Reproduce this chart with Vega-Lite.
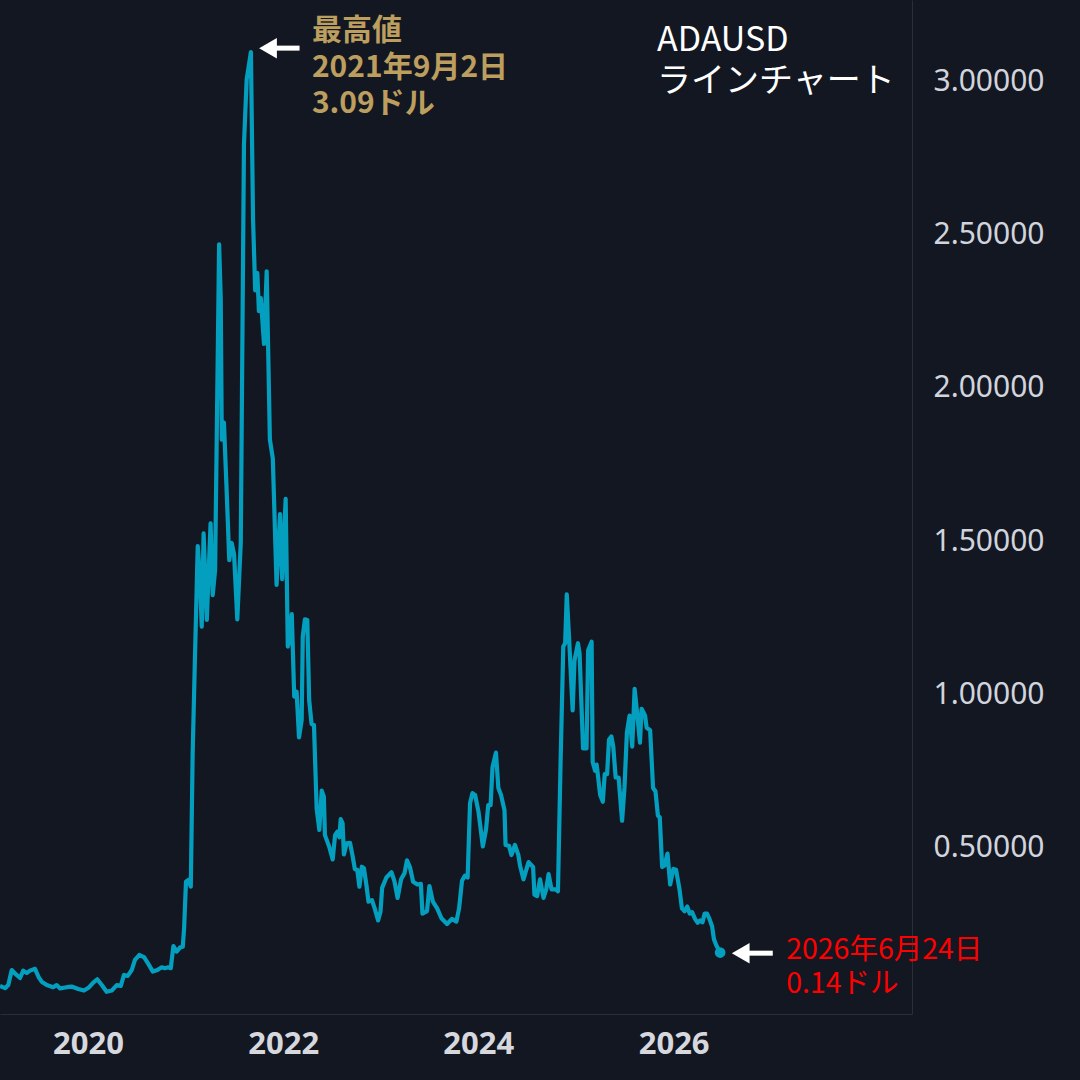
{
  "$schema": "https://vega.github.io/schema/vega-lite/v6.json",
  "width": 912,
  "height": 1014,
  "autosize": {"type": "none"},
  "padding": {"left": 0, "top": 0, "right": 168, "bottom": 66},
  "background": "#131722",
  "config": {
    "view": {"stroke": null},
    "font": "Noto Sans CJK JP"
  },
  "title": {
    "text": ["ADAUSD", "ラインチャート"],
    "orient": "top",
    "anchor": "start",
    "frame": "group",
    "align": "left",
    "baseline": "top",
    "offset": 0,
    "dx": 657,
    "dy": 99,
    "fontSize": 34,
    "fontWeight": "normal",
    "lineHeight": 41,
    "color": "#ffffff",
    "font": "Noto Sans CJK JP"
  },
  "datasets": {
    "ada": [
      {"date": "2019-02-06", "price": 0.049},
      {"date": "2019-02-25", "price": 0.042},
      {"date": "2019-03-09", "price": 0.052},
      {"date": "2019-03-22", "price": 0.101},
      {"date": "2019-04-09", "price": 0.085},
      {"date": "2019-04-22", "price": 0.075},
      {"date": "2019-05-04", "price": 0.099},
      {"date": "2019-05-17", "price": 0.091},
      {"date": "2019-05-29", "price": 0.099},
      {"date": "2019-06-17", "price": 0.105},
      {"date": "2019-06-30", "price": 0.079},
      {"date": "2019-07-12", "price": 0.063},
      {"date": "2019-07-31", "price": 0.052},
      {"date": "2019-08-24", "price": 0.045},
      {"date": "2019-09-06", "price": 0.052},
      {"date": "2019-09-19", "price": 0.041},
      {"date": "2019-10-14", "price": 0.045},
      {"date": "2019-11-01", "price": 0.047},
      {"date": "2019-11-26", "price": 0.039},
      {"date": "2019-12-17", "price": 0.034},
      {"date": "2020-01-03", "price": 0.043},
      {"date": "2020-01-21", "price": 0.060},
      {"date": "2020-02-05", "price": 0.071},
      {"date": "2020-02-22", "price": 0.052},
      {"date": "2020-03-11", "price": 0.030},
      {"date": "2020-03-30", "price": 0.034},
      {"date": "2020-04-18", "price": 0.052},
      {"date": "2020-05-03", "price": 0.049},
      {"date": "2020-05-15", "price": 0.085},
      {"date": "2020-05-29", "price": 0.082},
      {"date": "2020-06-13", "price": 0.101},
      {"date": "2020-06-25", "price": 0.134},
      {"date": "2020-07-11", "price": 0.150},
      {"date": "2020-07-29", "price": 0.143},
      {"date": "2020-08-14", "price": 0.121},
      {"date": "2020-08-31", "price": 0.096},
      {"date": "2020-09-17", "price": 0.101},
      {"date": "2020-10-03", "price": 0.110},
      {"date": "2020-10-15", "price": 0.107},
      {"date": "2020-10-28", "price": 0.110},
      {"date": "2020-11-06", "price": 0.107},
      {"date": "2020-11-16", "price": 0.179},
      {"date": "2020-11-28", "price": 0.161},
      {"date": "2020-12-11", "price": 0.175},
      {"date": "2020-12-21", "price": 0.177},
      {"date": "2020-12-26", "price": 0.238},
      {"date": "2021-01-02", "price": 0.389},
      {"date": "2021-01-11", "price": 0.395},
      {"date": "2021-01-20", "price": 0.373},
      {"date": "2021-01-27", "price": 0.809},
      {"date": "2021-02-05", "price": 1.135},
      {"date": "2021-02-15", "price": 1.484},
      {"date": "2021-02-23", "price": 1.384},
      {"date": "2021-03-02", "price": 1.221},
      {"date": "2021-03-09", "price": 1.525},
      {"date": "2021-03-21", "price": 1.243},
      {"date": "2021-04-04", "price": 1.558},
      {"date": "2021-04-12", "price": 1.324},
      {"date": "2021-04-21", "price": 1.406},
      {"date": "2021-05-06", "price": 2.468},
      {"date": "2021-05-12", "price": 2.293},
      {"date": "2021-05-16", "price": 1.831},
      {"date": "2021-05-24", "price": 1.887},
      {"date": "2021-06-03", "price": 1.669},
      {"date": "2021-06-13", "price": 1.438},
      {"date": "2021-06-22", "price": 1.494},
      {"date": "2021-07-01", "price": 1.457},
      {"date": "2021-07-13", "price": 1.245},
      {"date": "2021-07-26", "price": 1.494},
      {"date": "2021-08-07", "price": 2.793},
      {"date": "2021-08-17", "price": 3.005},
      {"date": "2021-09-02", "price": 3.095},
      {"date": "2021-09-10", "price": 2.550},
      {"date": "2021-09-18", "price": 2.318},
      {"date": "2021-09-26", "price": 2.374},
      {"date": "2021-10-02", "price": 2.250},
      {"date": "2021-10-09", "price": 2.293},
      {"date": "2021-10-21", "price": 2.143},
      {"date": "2021-10-31", "price": 2.380},
      {"date": "2021-11-06", "price": 2.106},
      {"date": "2021-11-12", "price": 1.831},
      {"date": "2021-11-23", "price": 1.769},
      {"date": "2021-12-07", "price": 1.357},
      {"date": "2021-12-20", "price": 1.588},
      {"date": "2021-12-28", "price": 1.376},
      {"date": "2022-01-10", "price": 1.638},
      {"date": "2022-01-18", "price": 1.156},
      {"date": "2022-01-24", "price": 1.177},
      {"date": "2022-02-02", "price": 1.262},
      {"date": "2022-02-11", "price": 0.993},
      {"date": "2022-02-20", "price": 1.009},
      {"date": "2022-03-01", "price": 0.860},
      {"date": "2022-03-11", "price": 0.917},
      {"date": "2022-03-15", "price": 1.188},
      {"date": "2022-03-23", "price": 1.245},
      {"date": "2022-04-01", "price": 1.243},
      {"date": "2022-04-08", "price": 0.982},
      {"date": "2022-04-17", "price": 0.903},
      {"date": "2022-04-26", "price": 0.900},
      {"date": "2022-05-06", "price": 0.628},
      {"date": "2022-05-16", "price": 0.558},
      {"date": "2022-05-25", "price": 0.686},
      {"date": "2022-06-02", "price": 0.666},
      {"date": "2022-06-06", "price": 0.541},
      {"date": "2022-06-22", "price": 0.503},
      {"date": "2022-07-05", "price": 0.462},
      {"date": "2022-07-14", "price": 0.541},
      {"date": "2022-07-22", "price": 0.552},
      {"date": "2022-07-30", "price": 0.534},
      {"date": "2022-08-04", "price": 0.593},
      {"date": "2022-08-11", "price": 0.580},
      {"date": "2022-08-16", "price": 0.478},
      {"date": "2022-08-26", "price": 0.514},
      {"date": "2022-09-08", "price": 0.516},
      {"date": "2022-09-18", "price": 0.471},
      {"date": "2022-09-26", "price": 0.430},
      {"date": "2022-10-05", "price": 0.428},
      {"date": "2022-10-13", "price": 0.373},
      {"date": "2022-10-22", "price": 0.438},
      {"date": "2022-10-30", "price": 0.433},
      {"date": "2022-11-09", "price": 0.373},
      {"date": "2022-11-16", "price": 0.324},
      {"date": "2022-11-29", "price": 0.329},
      {"date": "2022-12-11", "price": 0.297},
      {"date": "2022-12-22", "price": 0.263},
      {"date": "2022-12-31", "price": 0.291},
      {"date": "2023-01-06", "price": 0.369},
      {"date": "2023-01-22", "price": 0.403},
      {"date": "2023-02-01", "price": 0.412},
      {"date": "2023-02-10", "price": 0.420},
      {"date": "2023-02-21", "price": 0.391},
      {"date": "2023-03-05", "price": 0.336},
      {"date": "2023-03-18", "price": 0.397},
      {"date": "2023-03-31", "price": 0.417},
      {"date": "2023-04-09", "price": 0.459},
      {"date": "2023-04-20", "price": 0.437},
      {"date": "2023-05-02", "price": 0.389},
      {"date": "2023-05-18", "price": 0.380},
      {"date": "2023-05-31", "price": 0.382},
      {"date": "2023-06-06", "price": 0.285},
      {"date": "2023-06-23", "price": 0.293},
      {"date": "2023-07-02", "price": 0.375},
      {"date": "2023-07-15", "price": 0.324},
      {"date": "2023-07-31", "price": 0.302},
      {"date": "2023-08-16", "price": 0.270},
      {"date": "2023-09-06", "price": 0.251},
      {"date": "2023-09-24", "price": 0.268},
      {"date": "2023-10-11", "price": 0.259},
      {"date": "2023-10-21", "price": 0.302},
      {"date": "2023-11-01", "price": 0.392},
      {"date": "2023-11-12", "price": 0.409},
      {"date": "2023-11-22", "price": 0.403},
      {"date": "2023-12-01", "price": 0.645},
      {"date": "2023-12-10", "price": 0.678},
      {"date": "2023-12-20", "price": 0.672},
      {"date": "2024-01-02", "price": 0.616},
      {"date": "2024-01-18", "price": 0.504},
      {"date": "2024-01-30", "price": 0.560},
      {"date": "2024-02-07", "price": 0.639},
      {"date": "2024-02-16", "price": 0.639},
      {"date": "2024-02-23", "price": 0.762},
      {"date": "2024-03-07", "price": 0.810},
      {"date": "2024-03-16", "price": 0.695},
      {"date": "2024-03-26", "price": 0.672},
      {"date": "2024-04-08", "price": 0.622},
      {"date": "2024-04-12", "price": 0.509},
      {"date": "2024-04-25", "price": 0.506},
      {"date": "2024-05-04", "price": 0.476},
      {"date": "2024-05-17", "price": 0.509},
      {"date": "2024-05-30", "price": 0.476},
      {"date": "2024-06-05", "price": 0.442},
      {"date": "2024-06-18", "price": 0.397},
      {"date": "2024-07-07", "price": 0.453},
      {"date": "2024-07-24", "price": 0.437},
      {"date": "2024-07-29", "price": 0.347},
      {"date": "2024-08-08", "price": 0.342},
      {"date": "2024-08-19", "price": 0.397},
      {"date": "2024-09-01", "price": 0.336},
      {"date": "2024-09-11", "price": 0.364},
      {"date": "2024-09-20", "price": 0.414},
      {"date": "2024-10-01", "price": 0.364},
      {"date": "2024-10-16", "price": 0.364},
      {"date": "2024-10-25", "price": 0.358},
      {"date": "2024-11-04", "price": 0.785},
      {"date": "2024-11-14", "price": 1.156},
      {"date": "2024-11-21", "price": 1.167},
      {"date": "2024-11-27", "price": 1.326},
      {"date": "2024-12-06", "price": 1.178},
      {"date": "2024-12-19", "price": 0.948},
      {"date": "2024-12-26", "price": 1.111},
      {"date": "2025-01-08", "price": 1.167},
      {"date": "2025-01-14", "price": 1.133},
      {"date": "2025-01-27", "price": 0.824},
      {"date": "2025-02-09", "price": 0.824},
      {"date": "2025-02-15", "price": 1.144},
      {"date": "2025-02-28", "price": 1.172},
      {"date": "2025-03-04", "price": 0.779},
      {"date": "2025-03-13", "price": 0.751},
      {"date": "2025-03-19", "price": 0.771},
      {"date": "2025-04-01", "price": 0.672},
      {"date": "2025-04-11", "price": 0.650},
      {"date": "2025-04-18", "price": 0.740},
      {"date": "2025-04-27", "price": 0.740},
      {"date": "2025-05-04", "price": 0.852},
      {"date": "2025-05-13", "price": 0.863},
      {"date": "2025-05-20", "price": 0.830},
      {"date": "2025-05-29", "price": 0.729},
      {"date": "2025-06-09", "price": 0.729},
      {"date": "2025-06-22", "price": 0.588},
      {"date": "2025-07-01", "price": 0.695},
      {"date": "2025-07-10", "price": 0.875},
      {"date": "2025-07-20", "price": 0.931},
      {"date": "2025-07-30", "price": 0.830},
      {"date": "2025-08-08", "price": 1.018},
      {"date": "2025-08-17", "price": 0.942},
      {"date": "2025-08-28", "price": 0.843},
      {"date": "2025-09-03", "price": 0.953},
      {"date": "2025-09-16", "price": 0.931},
      {"date": "2025-09-22", "price": 0.891},
      {"date": "2025-10-05", "price": 0.883},
      {"date": "2025-10-16", "price": 0.695},
      {"date": "2025-10-25", "price": 0.684},
      {"date": "2025-11-03", "price": 0.605},
      {"date": "2025-11-10", "price": 0.600},
      {"date": "2025-11-19", "price": 0.437},
      {"date": "2025-11-28", "price": 0.442},
      {"date": "2025-12-09", "price": 0.481},
      {"date": "2025-12-19", "price": 0.380},
      {"date": "2025-12-31", "price": 0.431},
      {"date": "2026-01-10", "price": 0.428},
      {"date": "2026-01-23", "price": 0.364},
      {"date": "2026-02-01", "price": 0.302},
      {"date": "2026-02-11", "price": 0.293},
      {"date": "2026-02-21", "price": 0.308},
      {"date": "2026-03-02", "price": 0.285},
      {"date": "2026-03-11", "price": 0.290},
      {"date": "2026-03-22", "price": 0.268},
      {"date": "2026-04-01", "price": 0.255},
      {"date": "2026-04-10", "price": 0.263},
      {"date": "2026-04-19", "price": 0.257},
      {"date": "2026-04-27", "price": 0.285},
      {"date": "2026-05-06", "price": 0.285},
      {"date": "2026-05-15", "price": 0.268},
      {"date": "2026-05-25", "price": 0.243},
      {"date": "2026-06-01", "price": 0.201},
      {"date": "2026-06-10", "price": 0.181},
      {"date": "2026-06-24", "price": 0.158}
    ],
    "peak": [
      {"date": "2021-09-02", "price": 3.095, "label": "最高値\n2021年9月2日\n3.09ドル"}
    ],
    "last": [
      {"date": "2026-06-24", "price": 0.158, "label": "2026年6月24日\n0.14ドル"}
    ],
    "arrows": [
      {"head": "2021-11-05", "start": "2021-11-13", "end": "2022-03-03", "price": 3.108},
      {"head": "2026-09-09", "start": "2026-09-25", "end": "2027-01-07", "price": 0.156}
    ]
  },
  "layer": [
    {
      "data": {"name": "ada"},
      "mark": {"type": "line", "color": "#049fbf", "strokeWidth": 4.2, "clip": true, "strokeJoin": "round"},
      "encoding": {
        "x": {
          "field": "date",
          "type": "temporal",
          "scale": {
            "type": "utc",
            "domain": [
              {"year": 2019, "month": 2, "date": 6, "utc": true},
              {"year": 2028, "month": 6, "date": 11, "utc": true}
            ],
            "nice": false
          },
          "axis": {
            "orient": "bottom",
            "title": null,
            "values": [
              {"year": 2020, "month": 1, "date": 1, "utc": true},
              {"year": 2022, "month": 1, "date": 1, "utc": true},
              {"year": 2024, "month": 1, "date": 1, "utc": true},
              {"year": 2026, "month": 1, "date": 1, "utc": true}
            ],
            "format": "%Y",
            "grid": false,
            "ticks": false,
            "domain": true,
            "domainColor": "#2a2e39",
            "domainWidth": 1,
            "labelFont": "Noto Sans",
            "labelFontSize": 31,
            "labelFontWeight": "bold",
            "labelColor": "#d6d8de",
            "labelPadding": 15,
            "labelFlush": false,
            "labelOverlap": false
          }
        },
        "y": {
          "field": "price",
          "type": "quantitative",
          "scale": {"domain": [-0.0424, 3.265], "nice": false, "zero": false},
          "axis": {
            "orient": "right",
            "title": null,
            "values": [0.5, 1, 1.5, 2, 2.5, 3],
            "format": ".5f",
            "grid": false,
            "ticks": false,
            "domain": true,
            "domainColor": "#2a2e39",
            "domainWidth": 1,
            "labelFont": "Noto Sans",
            "labelFontSize": 30,
            "labelColor": "#d1d4dc",
            "labelPadding": 21,
            "labelOverlap": false
          }
        }
      }
    },
    {
      "data": {"name": "arrows"},
      "mark": {"type": "rule", "color": "#ffffff", "strokeWidth": 5},
      "encoding": {
        "x": {"field": "start", "type": "temporal"},
        "x2": {"field": "end"},
        "y": {"field": "price", "type": "quantitative"}
      }
    },
    {
      "data": {"name": "arrows"},
      "mark": {"type": "point", "shape": "triangle-left", "filled": true, "color": "#ffffff", "size": 420, "opacity": 1},
      "encoding": {
        "x": {"field": "head", "type": "temporal"},
        "y": {"field": "price", "type": "quantitative"}
      }
    },
    {
      "data": {"name": "last"},
      "mark": {"type": "point", "shape": "circle", "filled": true, "color": "#049fbf", "size": 115, "opacity": 1},
      "encoding": {
        "x": {"field": "date", "type": "temporal"},
        "y": {"field": "price", "type": "quantitative"}
      }
    },
    {
      "data": {"name": "peak"},
      "mark": {
        "type": "text",
        "align": "left",
        "baseline": "top",
        "dx": 61,
        "dy": -36,
        "font": "Noto Sans CJK JP",
        "fontSize": 30,
        "fontWeight": "bold",
        "lineHeight": 36.5,
        "lineBreak": "\n",
        "color": "#bc9e5e"
      },
      "encoding": {
        "x": {"field": "date", "type": "temporal"},
        "y": {"field": "price", "type": "quantitative"},
        "text": {"field": "label"}
      }
    },
    {
      "data": {"name": "last"},
      "mark": {
        "type": "text",
        "align": "left",
        "baseline": "top",
        "dx": 66,
        "dy": -17,
        "font": "Noto Sans CJK JP",
        "fontSize": 28.5,
        "fontWeight": "normal",
        "lineHeight": 34.5,
        "lineBreak": "\n",
        "color": "#ff0000"
      },
      "encoding": {
        "x": {"field": "date", "type": "temporal"},
        "y": {"field": "price", "type": "quantitative"},
        "text": {"field": "label"}
      }
    }
  ]
}
